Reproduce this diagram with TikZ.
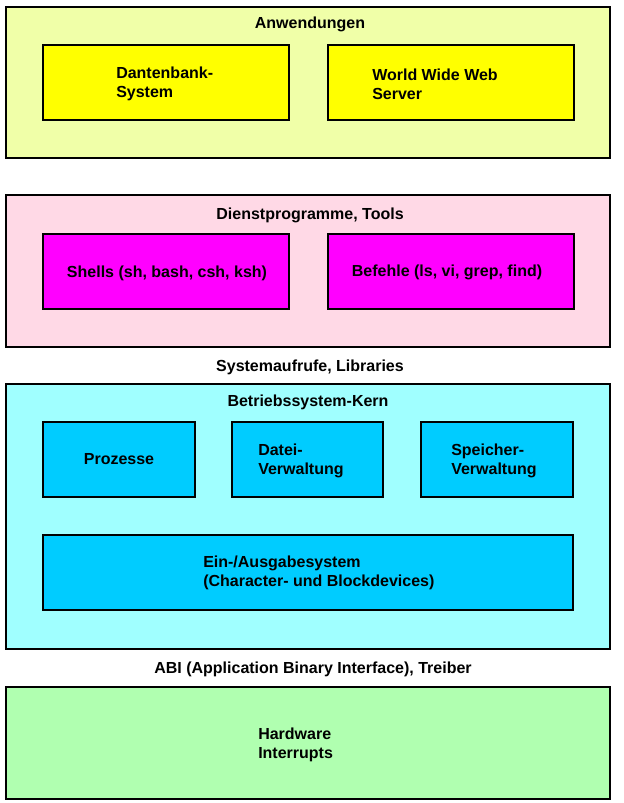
\documentclass[tikz,border=0pt]{standalone}
\usepackage{fontspec}
\setmainfont{Liberation Sans}
\begin{document}
\begin{tikzpicture}[x=0.75pt,y=-0.75pt,
  box/.style={draw=black,line width=1.5pt,inner sep=0pt,rectangle},
  txt/.style={font=\fontsize{12}{14.25}\selectfont\bfseries,inner sep=0pt,align=left},
  ctxt/.style={font=\fontsize{12}{14.25}\selectfont\bfseries,inner sep=0pt,align=center}]
\definecolor{anwbg}{HTML}{F0FFA8}
\definecolor{yel}{HTML}{FFFF00}
\definecolor{pinkbg}{HTML}{FFD9E6}
\definecolor{mag}{HTML}{FF00FF}
\definecolor{cyanbg}{HTML}{A0FFFF}
\definecolor{cyanbox}{HTML}{00CCFF}
\definecolor{greenbg}{HTML}{B0FFB0}
\useasboundingbox[fill=white] (0,0) rectangle (624,803);
% outer layers
\node[box,fill=anwbg,minimum width=453pt,minimum height=113.25pt] (anw) at (308,82.5) {};
\node[box,fill=pinkbg,minimum width=453pt,minimum height=114pt] (dienst) at (308,271) {};
\node[box,fill=cyanbg,minimum width=453pt,minimum height=198.75pt] (kern) at (308,516.5) {};
\node[box,fill=greenbg,minimum width=453pt,minimum height=84pt] (hw) at (308,743) {};
% inner boxes
\node[box,fill=yel,minimum width=184.5pt,minimum height=56.25pt] (db) at (166,82.5) {};
\node[box,fill=yel,minimum width=184.5pt,minimum height=56.25pt] (www) at (450.5,82.5) {};
\node[box,fill=mag,minimum width=184.5pt,minimum height=56.25pt] (sh) at (166,271.5) {};
\node[box,fill=mag,minimum width=184.5pt,minimum height=56.25pt] (bef) at (450.5,271.5) {};
\node[box,fill=cyanbox,minimum width=114pt,minimum height=56.25pt] (proz) at (119,459.5) {};
\node[box,fill=cyanbox,minimum width=113.25pt,minimum height=56.25pt] (datei) at (307.5,459.5) {};
\node[box,fill=cyanbox,minimum width=114pt,minimum height=56.25pt] (speich) at (497,459.5) {};
\node[box,fill=cyanbox,minimum width=397.5pt,minimum height=56.25pt] (eio) at (308,572.5) {};
% texts
\node[ctxt] (tanw) at (310,24) {Anwendungen};
\node[txt,anchor=west] (tdb) at (116,84) {Dantenbank-\\System};
\node[txt,anchor=west] (twww) at (372,84) {World Wide Web\\Server};
\node[ctxt] (tdienst) at (310,215) {Dienstprogramme, Tools};
\node[ctxt] (tsh) at (167,273) {Shells (sh, bash, csh, ksh)};
\node[ctxt] (tbef) at (447,272) {Befehle (ls, vi, grep, find)};
\node[ctxt] (tsys) at (310,367) {Systemaufrufe, Libraries};
\node[ctxt] (tkern) at (308,402) {Betriebssystem-Kern};
\node[ctxt] (tproz) at (119,459) {Prozesse};
\node[txt,anchor=west] (tdatei) at (258,461) {Datei-\\Verwaltung};
\node[txt,anchor=west] (tspeich) at (451,461) {Speicher-\\Verwaltung};
\node[txt,anchor=west] (teio) at (203,573) {Ein-/Ausgabesystem\\(Character- und Blockdevices)};
\node[ctxt] (tabi) at (313,669) {ABI (Application Binary Interface), Treiber};
\node[txt,anchor=west] (thw) at (258,745) {Hardware\\Interrupts};
\end{tikzpicture}
\end{document}
